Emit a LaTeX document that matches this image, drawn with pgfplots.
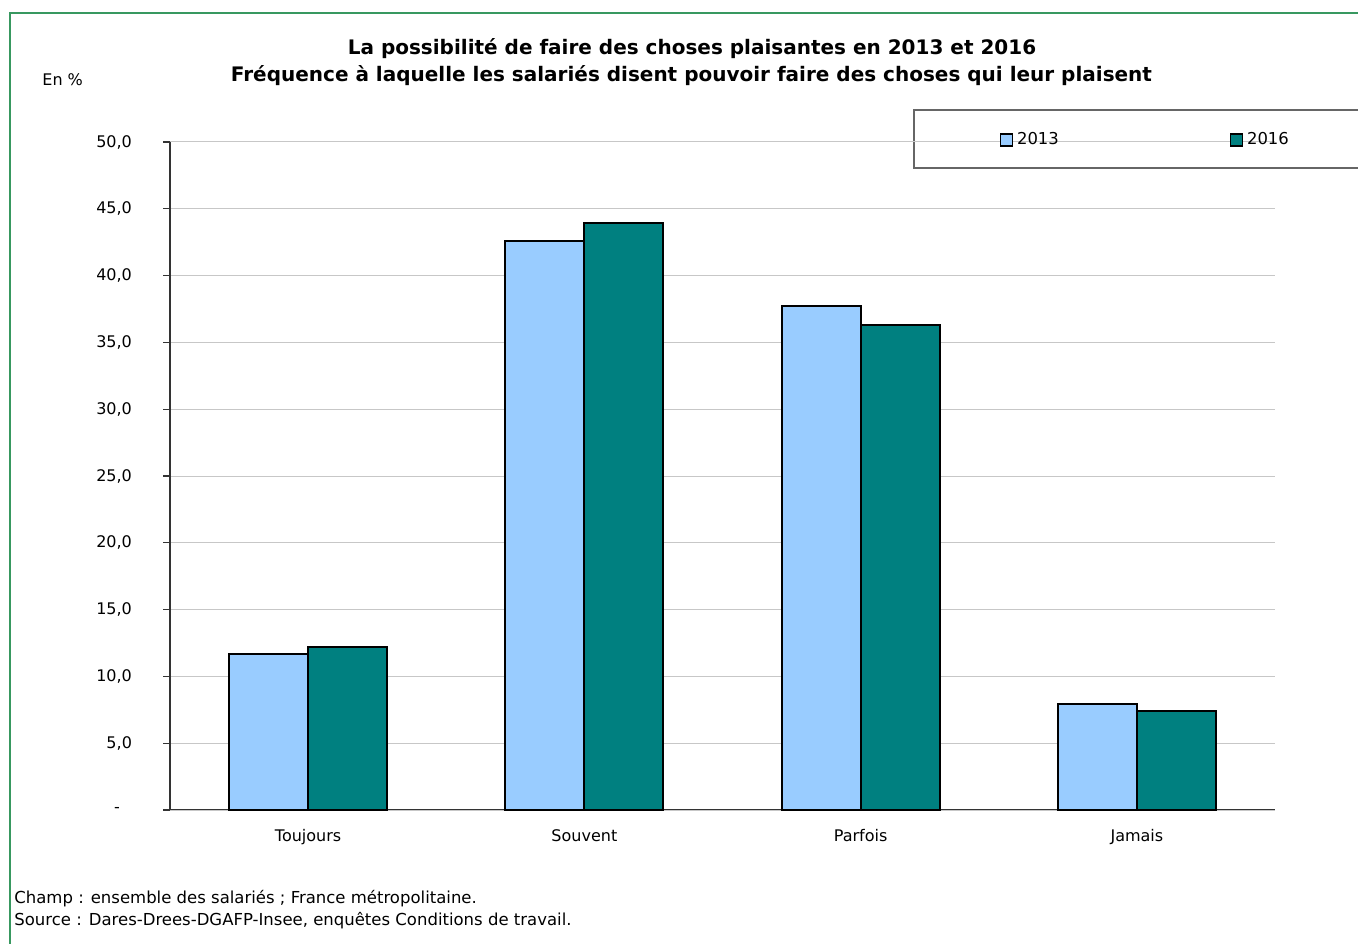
\documentclass[border=0pt]{standalone}
\usepackage{pgfplots}
\pgfplotsset{compat=1.18}
\usepackage{fontspec}
\setmainfont{DejaVu Sans}
\definecolor{cA}{RGB}{153,204,255}
\definecolor{cB}{RGB}{0,128,128}
\definecolor{frameg}{RGB}{56,152,96}
\begin{document}
\begin{tikzpicture}
\clip (0,0) rectangle (679pt,471.5pt);
\fill[white] (0,0) rectangle (679pt,471.5pt);
\draw[frameg,line width=1pt] (5pt,-2pt) -- (5pt,465pt) -- (690pt,465pt);
% legend frame
\draw[black!60,line width=0.6pt,fill=white] (457pt,387.5pt) rectangle (700pt,416.5pt);
\begin{axis}[
  at={(85pt,66.5pt)}, anchor=south west,
  scale only axis, width=552.5pt, height=334pt,
  ymin=0, ymax=50, xmin=-0.5, xmax=3.5,
  ybar=0pt, bar width=39.5pt,
  axis lines*=left,
  axis line style={black!80, line width=0.6pt},
  tick align=outside,
  ytick={5,10,...,50},
  yticklabels={{5,0},{10,0},{15,0},{20,0},{25,0},{30,0},{35,0},{40,0},{45,0},{50,0}},
  extra y ticks={0},
  extra y tick labels={-},
  extra y tick style={yticklabel style={xshift=-6pt}},
  xtick={0,1,2,3},
  xticklabels={Toujours,Souvent,Parfois,Jamais},
  xtick style={draw=none},
  minor xtick={-0.5,0.5,1.5,2.5,3.5},
  minor x tick style={black!80,line width=0.6pt},
  ytick style={black!80,line width=0.6pt},
  major tick length=3.5pt, minor tick length=2.5pt,
  ymajorgrids, major grid style={black!22, line width=0.5pt},
  tick label style={font=\fontsize{8}{9.6}\selectfont},
  yticklabel style={xshift=-12pt},
  xticklabel style={text height=6pt, text depth=1.7pt, yshift=-2.5pt},
  /pgf/number format/assume math mode=true,
  legend columns=2,
  legend style={draw=none, fill=none, at={(0.7507,1.003)}, anchor=west,
    font=\fontsize{8.2}{9.6}\selectfont, inner sep=0pt,
    /tikz/every even column/.append style={column sep=83.5pt}},
  legend image code/.code={\draw[#1,line width=0.6pt] (0pt,-3pt) rectangle (6pt,3pt);},
]
\addplot[fill=cA, draw=black, line width=1pt] coordinates {(0,11.7) (1,42.6) (2,37.7) (3,7.9)};
\addplot[fill=cB, draw=black, line width=1pt] coordinates {(0,12.2) (1,43.9) (2,36.3) (3,7.4)};
\legend{2013,2016}
\end{axis}
\node[font=\fontsize{10}{11}\selectfont\bfseries] at (346pt,447pt) {La possibilité de faire des choses plaisantes en 2013 et 2016};
\node[font=\fontsize{10}{11}\selectfont\bfseries] at (345.75pt,433.5pt) {Fréquence à laquelle les salariés disent pouvoir faire des choses qui leur plaisent};
\node[font=\fontsize{8}{9.6}\selectfont, anchor=west, inner sep=0pt] at (21pt,431.5pt) {En \%};
\node[font=\fontsize{8.25}{9.6}\selectfont, anchor=west, inner sep=0pt] at (7pt,22pt) {Champ : ensemble des salariés ; France métropolitaine.};
\node[font=\fontsize{8.25}{9.6}\selectfont, anchor=west, inner sep=0pt] at (7pt,11pt) {Source : Dares-Drees-DGAFP-Insee, enquêtes Conditions de travail.};
\end{tikzpicture}
\end{document}
